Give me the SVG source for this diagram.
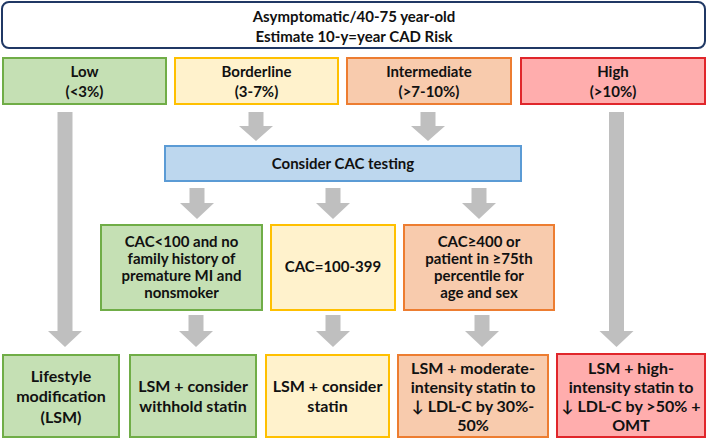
<svg xmlns="http://www.w3.org/2000/svg" width="708" height="440" viewBox="0 0 708 440">
<style>
text{font-family:Lato,"Liberation Sans",sans-serif;font-weight:bold;fill:#111;text-anchor:middle}
.t14{font-size:15px}
.t15{font-size:15px}
.t16{font-size:16px}
.arr{fill:#bfbfbf}
.g{fill:#c5e0b4;stroke:#70ad47;stroke-width:2}
.y{fill:#fff2cc;stroke:#ffc000;stroke-width:2}
.o{fill:#f8cbad;stroke:#ed7d31;stroke-width:2}
.r{fill:#ffadad;stroke:#e0262b;stroke-width:2}
.b{fill:#bdd7ee;stroke:#5b9bd5;stroke-width:2}
</style>
<g id="connectors">
<path class="arr" d="M57.5,112H72.5V331H82L65,347L48,331H57.5Z"/>
<path class="arr" d="M609,112H624V331H633.5L616.5,347L599.5,331H609Z"/>
<path class="arr" d="M248.5,112H263.5V126H273L256,141L239,126H248.5Z"/>
<path class="arr" d="M420.5,112H435.5V126H445L428,141L411,126H420.5Z"/>
<path class="arr" d="M189.5,188H204.5V203H214L197,219L180,203H189.5Z"/>
<path class="arr" d="M325.5,188H340.5V203H350L333,219L316,203H325.5Z"/>
<path class="arr" d="M471.5,188H486.5V203H496L479,219L462,203H471.5Z"/>
<path class="arr" d="M188.5,315H203.5V331H213L196,347L179,331H188.5Z"/>
<path class="arr" d="M325.5,315H340.5V331H350L333,347L316,331H325.5Z"/>
<path class="arr" d="M474.5,315H489.5V331H499L482,347L465,331H474.5Z"/>
</g>
<g id="top">
<rect x="2" y="2" width="703" height="46" rx="7" fill="#fff" stroke="#203864" stroke-width="2"/>
<text class="t14" x="354" y="22">Asymptomatic/40-75 year-old</text>
<text class="t14" x="354" y="42">Estimate 10-y=year CAD Risk</text>
</g>
<g id="low">
<rect class="g" x="3" y="58" width="163" height="46"/>
<text class="t14" x="84.5" y="77">Low</text>
<text class="t14" x="84.5" y="97">(&lt;3%)</text>
</g>
<g id="borderline">
<rect class="y" x="175" y="58" width="163" height="46"/>
<text class="t14" x="256.5" y="77">Borderline</text>
<text class="t14" x="256.5" y="97">(3-7%)</text>
</g>
<g id="intermediate">
<rect class="o" x="347" y="58" width="164" height="46"/>
<text class="t14" x="429" y="77">Intermediate</text>
<text class="t14" x="429" y="97">(&gt;7-10%)</text>
</g>
<g id="high">
<rect class="r" x="521" y="58" width="184" height="46"/>
<text class="t14" x="613" y="77">High</text>
<text class="t14" x="613" y="97">(&gt;10%)</text>
</g>
<g id="cac">
<rect class="b" x="165" y="146" width="356" height="35"/>
<text class="t14" x="343" y="169">Consider CAC testing</text>
</g>
<g id="cac-low">
<rect class="g" x="101" y="225" width="161" height="85"/>
<text class="t15" x="181.5" y="247">CAC&lt;100 and no</text>
<text class="t15" x="181.5" y="264">family history of</text>
<text class="t15" x="181.5" y="281">premature MI and</text>
<text class="t15" x="181.5" y="298">nonsmoker</text>
</g>
<g id="cac-mid">
<rect class="y" x="271" y="225" width="124" height="85"/>
<text class="t15" x="333" y="272">CAC=100-399</text>
</g>
<g id="cac-high">
<rect class="o" x="404" y="225" width="150" height="85"/>
<text class="t15" x="479" y="247">CAC≥400 or</text>
<text class="t15" x="479" y="264">patient in ≥75th</text>
<text class="t15" x="479" y="281">percentile for</text>
<text class="t15" x="479" y="298">age and sex</text>
</g>
<g id="lsm">
<rect class="g" x="3" y="355" width="116" height="82"/>
<text class="t16" x="61" y="382">Lifestyle</text>
<text class="t16" x="61" y="402">modification</text>
<text class="t16" x="61" y="423">(LSM)</text>
</g>
<g id="withhold">
<rect class="g" x="130" y="355" width="126" height="82"/>
<text class="t16" x="193" y="392">LSM + consider</text>
<text class="t16" x="193" y="412">withhold statin</text>
</g>
<g id="consider">
<rect class="y" x="266" y="355" width="123" height="82"/>
<text class="t16" x="327.5" y="392">LSM + consider</text>
<text class="t16" x="327.5" y="412">statin</text>
</g>
<g id="moderate">
<rect class="o" x="398" y="355" width="150" height="82"/>
<text class="t16" x="473" y="374">LSM + moderate-</text>
<text class="t16" x="473" y="393">intensity statin to</text>
<text class="t16" x="473" y="412">↓ LDL-C by 30%-</text>
<text class="t16" x="473" y="431">50%</text>
</g>
<g id="highint">
<rect class="r" x="557" y="354" width="148" height="83"/>
<text class="t16" x="631" y="374">LSM + high-</text>
<text class="t16" x="631" y="393">intensity statin to</text>
<text class="t16" x="631" y="412">↓ LDL-C by &gt;50% +</text>
<text class="t16" x="631" y="431">OMT</text>
</g>
</svg>
